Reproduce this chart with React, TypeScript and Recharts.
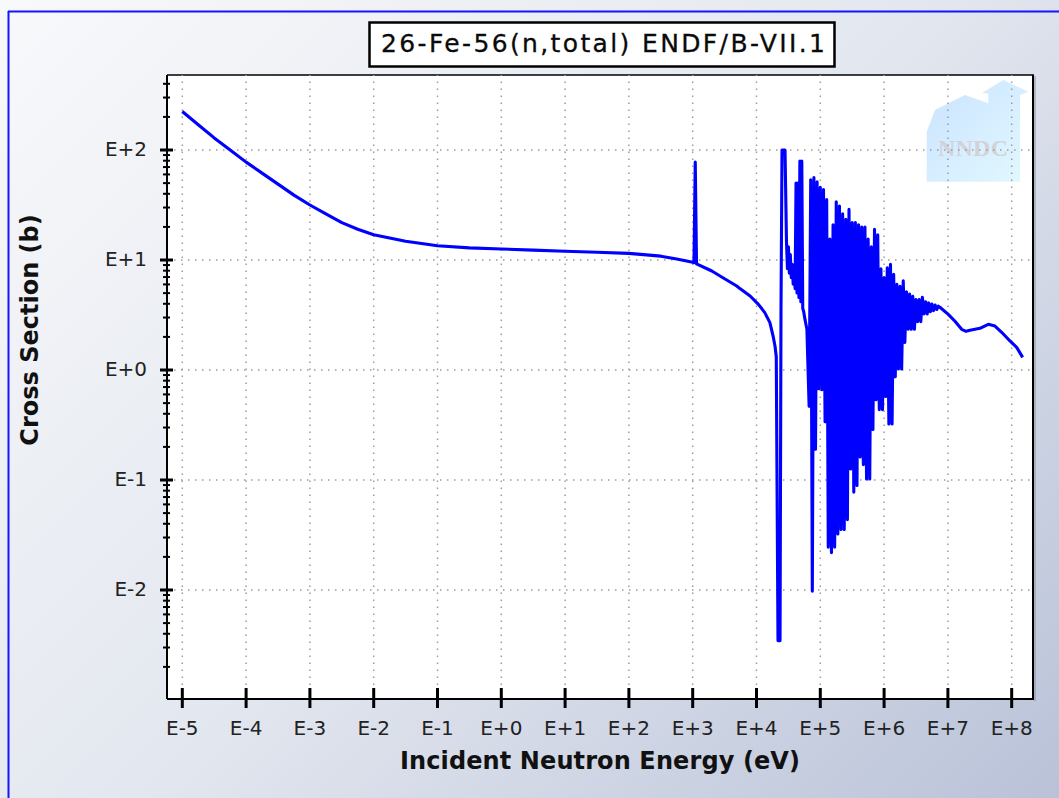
import { LineChart, Line, XAxis, YAxis, ReferenceLine } from "recharts";

// All series values are log10: energy in eV, cross section in barns.

// 1/v region down to the first keV
const smoothE = [
  -5, -4.75, -4.5, -4.25, -4, -3.75, -3.5, -3.25, -3, -2.75, -2.5, -2.25, -2, -1.75, -1.5,
  -1, -0.5, 0, 0.5, 1, 1.5, 2, 2.5, 2.75,
  3, 3.02, 3.04, 3.06, 3.3, 3.5, 3.69, 3.74, 3.9, 4.03, 4.13, 4.21, 4.26, 4.29, 4.31,
];
const smoothXs = [
  2.35, 2.23, 2.11, 2.0, 1.89, 1.79, 1.69, 1.59, 1.5, 1.42, 1.34, 1.28, 1.23, 1.2, 1.17,
  1.13, 1.11, 1.1, 1.09, 1.08, 1.07, 1.06, 1.035, 1.01,
  0.98, 0.975, 1.89, 0.965, 0.9, 0.83, 0.764, 0.74, 0.673, 0.597, 0.522, 0.431, 0.309, 0.218, 0.12,
];

// resolved resonances, 20 keV .. 7 MeV
const resE = [
  4.337, 4.369, 4.384, 4.4, 4.447, 4.47, 4.485, 4.5, 4.515, 4.53, 4.545, 4.56, 4.575, 4.59,
  4.605, 4.62, 4.635, 4.65, 4.665, 4.68, 4.695, 4.71, 4.725, 4.74, 4.76, 4.79,
  4.825, 4.85, 4.875, 4.9, 4.925, 4.95, 4.975, 5.0, 5.025, 5.05, 5.075,
  5.1, 5.125, 5.15, 5.175, 5.2, 5.225, 5.25, 5.275, 5.3, 5.325, 5.35, 5.375, 5.4, 5.425,
  5.45, 5.475, 5.5, 5.525, 5.55, 5.575, 5.6, 5.625, 5.65, 5.675, 5.7, 5.725, 5.75, 5.775,
  5.8, 5.825, 5.85, 5.875, 5.9, 5.925, 5.95, 5.975, 6.0, 6.025, 6.05, 6.075, 6.1, 6.125,
  6.15, 6.175, 6.2, 6.225, 6.25, 6.275, 6.3, 6.325, 6.35, 6.375, 6.4, 6.425, 6.45, 6.475,
  6.5, 6.525, 6.55, 6.575, 6.6, 6.625, 6.65, 6.675, 6.7, 6.725, 6.75, 6.775, 6.8, 6.825, 6.85,
];
const resXs = [
  -2.46, -2.46, 0.55, 2.0, 2.0, 1.17, 0.92, 1.12, 0.88, 1.05, 0.84, 0.96, 0.78, 0.9,
  0.74, 1.7, 0.7, 1.7, 0.66, 1.9, 0.62, 1.9, 0.56, 0.53, 0.46, 0.37,
  -0.33, 1.73, -2.01, 1.75, -0.72, 1.71, -0.17, 1.66, -0.18, 1.64, -0.47,
  1.55, -1.61, 1.19, -1.66, 1.32, -1.61, 1.53, -1.49, 1.49, -1.45, 1.42, -1.45, 1.37, -1.36,
  1.46, -0.9, 1.34, -1.11, 1.34, -1.05, 1.32, -0.79, 1.3, -0.86, 1.3, -0.99, 1.19, -0.99,
  1.12, -0.54, 1.28, -0.27, 1.23, -0.36, 0.92, -0.36, 0.84, -0.24, 0.93, -0.49, 0.96, -0.49,
  0.87, -0.06, 0.78, 0.01, 0.76, 0.01, 0.81, 0.25, 0.71, 0.37, 0.69, 0.37, 0.67, 0.37,
  0.64, 0.44, 0.64, 0.44, 0.66, 0.51, 0.62, 0.51, 0.61, 0.53, 0.6, 0.54, 0.59, 0.55, 0.58,
];

// smooth fast region up to 150 MeV
const fastE = [6.875, 7.006, 7.111, 7.216, 7.284, 7.346, 7.503, 7.633, 7.738, 7.843, 7.973, 8.078, 8.172];
const fastXs = [0.57, 0.506, 0.443, 0.37, 0.352, 0.361, 0.379, 0.415, 0.4, 0.343, 0.264, 0.206, 0.115];

const X_DOMAIN: [number, number] = [-5.24, 8.334];
const Y_DOMAIN: [number, number] = [-2.991, 2.682];

const xDecades = [-5, -4, -3, -2, -1, 0, 1, 2, 3, 4, 5, 6, 7, 8];
const yDecades = [-2, -1, 0, 1, 2];
const yMinor = [-3, -2, -1, 0, 1, 2]
  .flatMap((d) => [2, 3, 4, 5, 6, 7, 8, 9].map((k) => d + Math.log10(k)))
  .filter((v) => v > Y_DOMAIN[0] && v < Y_DOMAIN[1]);
const yTicks = [...yDecades, ...yMinor].sort((a, b) => a - b);

const TITLE = "26-Fe-56(n,total) ENDF/B-VII.1";
const FONT = "'DejaVu Sans', Verdana, sans-serif";

const points = [
  ...smoothE.map((x, i) => ({ x, y: smoothXs[i] })),
  ...resE.map((x, i) => ({ x, y: resXs[i] })),
  ...fastE.map((x, i) => ({ x, y: fastXs[i] })),
];

const expLabel = (n: number) => `E${n < 0 ? "-" : "+"}${Math.abs(n)}`;

function YTick({ x, y, payload }: any) {
  const v: number = payload.value;
  const major = Number.isInteger(v);
  return (
    <g>
      <line
        x1={x - (major ? 7 : 4)}
        x2={x + (major ? 6 : 3)}
        y1={y}
        y2={y}
        stroke="#000"
        strokeWidth={major ? 3 : 2}
      />
      {major && (
        <text x={147} y={y + 6} textAnchor="end" fontSize={20} fontFamily={FONT} fill="#222">
          {expLabel(v)}
        </text>
      )}
    </g>
  );
}

function XTick({ x, y, payload }: any) {
  return (
    <g>
      <line x1={x} x2={x} y1={y - 11} y2={y + 9} stroke="#000" strokeWidth={3} />
      <text x={x} y={y + 36} textAnchor="middle" fontSize={20} fontFamily={FONT} fill="#222">
        {expLabel(payload.value)}
      </text>
    </g>
  );
}

function Backdrop() {
  return (
    <svg width={1059} height={798} style={{ position: "absolute", left: 0, top: 0 }}>
      <defs>
        <linearGradient id="house" x1="0" y1="0" x2="1" y2="1">
          <stop offset="0%" stopColor="#c9e3ff" />
          <stop offset="100%" stopColor="#e2f8ff" />
        </linearGradient>
      </defs>
      <line x1={8.5} y1={11} x2={8.5} y2={798} stroke="#1515ff" strokeWidth={2} />
      <line x1={8} y1={11.5} x2={1059} y2={11.5} stroke="#1515ff" strokeWidth={2} />

      {/* plot panel */}
      <rect x={167} y={75} width={866} height={624} fill="#fff" />
      <polygon
        points="926.7,181.7 926.7,131.7 935,110 965,95 988.3,103.3 988.3,93.3 981.7,93.3 1003.3,80 1028.3,91.7 1020,95 1020,181.7"
        fill="url(#house)"
      />
      <text
        x={973}
        y={156}
        textAnchor="middle"
        fontSize={24}
        fontWeight="bold"
        fontFamily="'Liberation Serif', serif"
        fill="#d2d2d8"
        textLength={70}
      >
        NNDC
      </text>
      <line x1={167} y1={75} x2={1034} y2={75} stroke="#000" strokeWidth={1.5} />
      <line x1={1033} y1={75} x2={1033} y2={700} stroke="#000" strokeWidth={2} />
      <line x1={1035} y1={76} x2={1035} y2={701} stroke="#8a8f9c" strokeWidth={1} />

      {/* title */}
      <rect x={369.5} y={22.5} width={465} height={44} fill="#fff" stroke="#000" strokeWidth={2.5} />
      <text
        x={603}
        y={52}
        textAnchor="middle"
        fontSize={25}
        fontFamily={FONT}
        fill="#0a0a0a"
        stroke="#0a0a0a"
        strokeWidth={0.3}
        textLength={444}
        lengthAdjust="spacing"
      >
        {TITLE}
      </text>

      {/* axis titles */}
      <text
        x={600}
        y={769}
        textAnchor="middle"
        fontSize={24}
        fontWeight="bold"
        fontFamily={FONT}
        fill="#111"
        textLength={400}
        lengthAdjust="spacing"
      >
        Incident Neutron Energy (eV)
      </text>
      <text
        transform="translate(38,330) rotate(-90)"
        textAnchor="middle"
        fontSize={24}
        fontWeight="bold"
        fontFamily={FONT}
        fill="#111"
      >
        Cross Section (b)
      </text>
    </svg>
  );
}

export default function App() {
  return (
    <div
      style={{
        position: "absolute",
        left: 0,
        top: 0,
        width: 1059,
        height: 798,
        overflow: "hidden",
        background: "linear-gradient(135deg, #f8f9fb 0%, #e3e7ef 50%, #b9c2d8 100%)",
      }}
    >
      <Backdrop />
      <div style={{ position: "absolute", left: 0, top: 0 }}>
        <LineChart width={1059} height={798} data={points} margin={{ top: 75, right: 26, bottom: 0, left: 0 }}>
          {xDecades.map((d) => (
            <ReferenceLine key={`vx${d}`} x={d} stroke="#9c9c9c" strokeWidth={1.5} strokeDasharray="1.5 5.5" />
          ))}
          {yDecades.map((d) => (
            <ReferenceLine key={`hy${d}`} y={d} stroke="#9c9c9c" strokeWidth={1.5} strokeDasharray="1.5 5.5" />
          ))}
          <XAxis
            dataKey="x"
            type="number"
            domain={X_DOMAIN}
            allowDataOverflow
            ticks={xDecades}
            interval={0}
            height={99}
            tickSize={0}
            tickMargin={0}
            tickLine={false}
            axisLine={{ stroke: "#000", strokeWidth: 2 }}
            tick={<XTick />}
          />
          <YAxis
            type="number"
            domain={Y_DOMAIN}
            allowDataOverflow
            ticks={yTicks}
            interval={0}
            width={167}
            tickSize={0}
            tickMargin={0}
            tickLine={false}
            axisLine={{ stroke: "#000", strokeWidth: 2 }}
            tick={<YTick />}
          />
          <Line
            dataKey="y"
            type="linear"
            stroke="#0000ff"
            strokeWidth={3.1}
            strokeLinejoin="round"
            dot={false}
            activeDot={false}
            isAnimationActive={false}
          />
        </LineChart>
      </div>
    </div>
  );
}
